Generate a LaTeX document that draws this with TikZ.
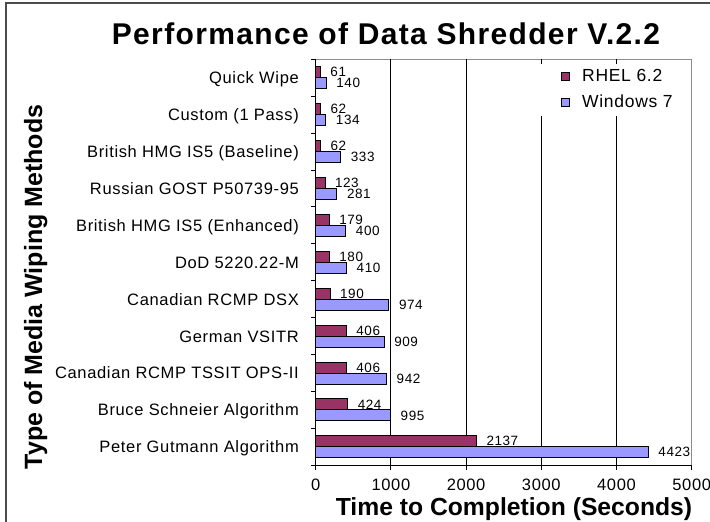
\documentclass[tikz,border=0pt]{standalone}
\usepackage{fontspec}
\setmainfont{Liberation Sans}
\newfontfamily\spacedfont[LetterSpace=4]{Liberation Sans}
\newfontfamily\headfont[LetterSpace=4.5]{Liberation Sans}
\definecolor{rhel}{HTML}{993366}
\definecolor{winseven}{HTML}{9999FF}

\begin{document}
\begin{tikzpicture}[x=1pt,y=-1pt,
  catlab/.style={anchor=base east,inner sep=0pt,font=\spacedfont\fontsize{16.5}{18}\selectfont},
  ticklab/.style={anchor=base,inner sep=0pt,font=\spacedfont\fontsize{16.5}{18}\selectfont},
  vallab/.style={anchor=base west,inner sep=0pt,font=\spacedfont\fontsize{13.5}{15}\selectfont},
  leglab/.style={anchor=base west,inner sep=0pt,font=\spacedfont\fontsize{17.5}{19}\selectfont},
  bar/.style={draw=black,line width=0.9pt},
  grid line/.style={line width=0.9pt}]
\useasboundingbox (0,0) rectangle (710,522);
\fill[white] (0,0) rectangle (710,522);
\draw[line width=1.6pt,black!70] (6,522) -- (6,3) -- (710,3);

% plot area and grid
\draw[black!45,line width=0.8pt] (315.7,59.3) -- (691.7,59.3) -- (691.7,465);
\foreach \k in {1,...,4}
  \draw[grid line] ({315.7+75.2*\k},59.3) -- ({315.7+75.2*\k},465);

% legend
\fill[white] (541,64) rectangle (691,116);
\draw[line width=0.8pt,fill=rhel] (561,72.5) rectangle (569,80.5);
\node[leglab] (legr) at (582,81.7) {RHEL 6.2};
\draw[line width=0.8pt,fill=winseven] (561,98) rectangle (569,106);
\node[leglab] (legw) at (582,107.3) {Windows 7};

% bars
\foreach \i/\name/\r/\w in {0/{Quick Wipe}/61/140,
  1/{Custom (1 Pass)}/62/134,
  2/{British HMG IS5 (Baseline)}/62/333,
  3/{Russian GOST P50739-95}/123/281,
  4/{British HMG IS5 (Enhanced)}/179/400,
  5/{DoD 5220.22-M}/180/410,
  6/{Canadian RCMP DSX}/190/974,
  7/{German VSITR}/406/909,
  8/{Canadian RCMP TSSIT OPS-II}/406/942,
  9/{Bruce Schneier Algorithm}/424/995,
  10/{Peter Gutmann Algorithm}/2137/4423}{
  \pgfmathsetmacro\cy{59.3+36.9*(\i+0.5)}
  \pgfmathsetmacro\rx{315.7+0.0752*\r}
  \pgfmathsetmacro\wx{315.7+0.0752*\w}
  \node[catlab] (cat\i) at (299,\cy+6) {\name};
  \draw[bar,fill=rhel] (315.7,\cy-11) rectangle (\rx,\cy);
  \node[vallab] (r\i) at (\rx+10,\cy-0.8) {\r};
  \draw[bar,fill=winseven] (315.7,\cy) rectangle (\wx,\cy+11);
  \node[vallab] (w\i) at (\wx+10,\cy+10.2) {\w};
}

% axes
\draw[grid line] (315.7,59.3) -- (315.7,470);
\draw[grid line] (311,465) -- (691.7,465);
\foreach \k in {0,...,11}
  \draw[grid line] (311,{59.3+36.9*\k}) -- (315.7,{59.3+36.9*\k});
\foreach \k in {0,...,5}{
  \draw[grid line] ({315.7+75.2*\k},465) -- ({315.7+75.2*\k},470);
  \node[ticklab] (t\k) at ({315.7+75.2*\k},490) {\pgfmathparse{int(1000*\k)}\pgfmathresult};
}

% titles
\node[anchor=base,inner sep=0pt,font=\headfont\bfseries\fontsize{30}{32}\selectfont] (title) at (386,44) {Performance of Data Shredder V.2.2};
\node[anchor=base,inner sep=0pt,rotate=90,font=\bfseries\fontsize{25}{27}\selectfont] (ytitle) at (42,287) {Type of Media Wiping Methods};
\node[anchor=base,inner sep=0pt,font=\bfseries\fontsize{24.7}{26}\selectfont] (xtitle) at (514,515.5) {Time to Completion (Seconds)};
\end{tikzpicture}
\end{document}
